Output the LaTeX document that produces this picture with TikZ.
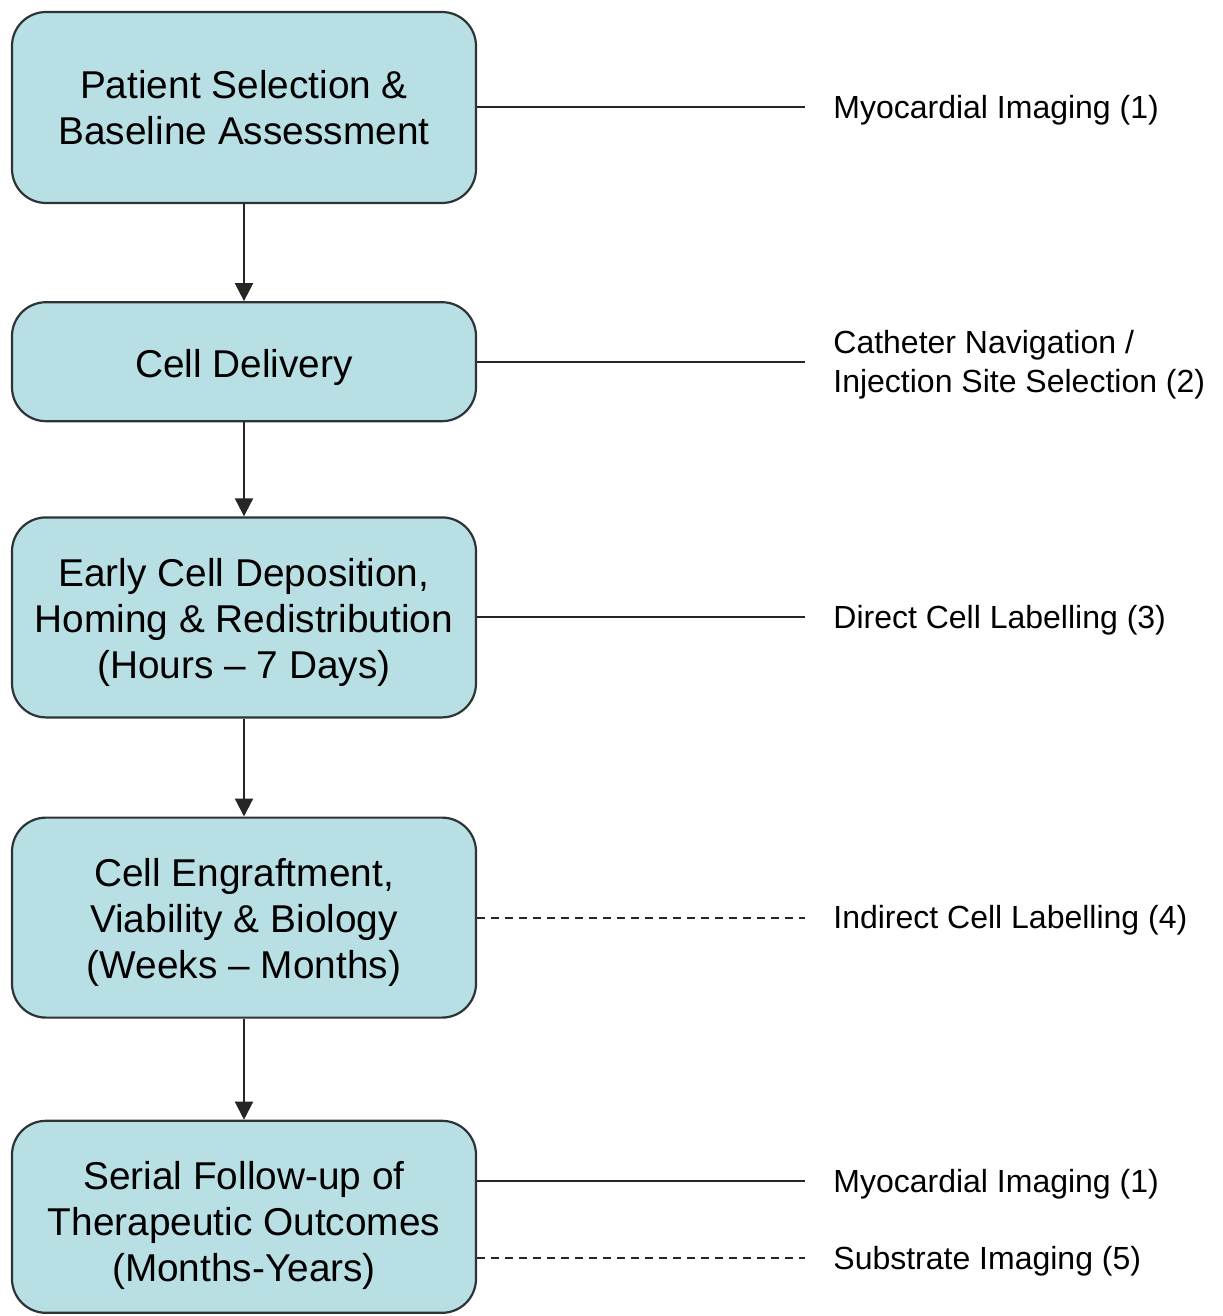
\documentclass[tikz,border=0pt]{standalone}
\usepackage{fontspec}
\setmainfont{Liberation Sans}
\usepackage{tikz}
\usetikzlibrary{positioning,arrows.meta}

\definecolor{boxfill}{RGB}{184,223,227}
\definecolor{boxline}{RGB}{45,52,54}
\newcommand{\sinkto}[1]{\rule{0pt}{#1}}

\begin{document}
\begin{tikzpicture}[node distance=50pt,
    stage/.style={rectangle, rounded corners=17pt, fill=boxfill, draw=boxline,
        line width=1.1pt, minimum width=232pt, align=center,
        font=\fontsize{19.4}{23}\selectfont},
    note/.style={anchor=west, inner xsep=0pt, align=left,
        font=\fontsize{16}{19.5}\selectfont},
    flow/.style={line width=1.1pt, draw=black!85,
        -{Triangle[width=9pt,length=9pt]}},
    link/.style={line width=1pt, draw=black!85},
    weak/.style={link, dash pattern=on 4pt off 3pt}]

\useasboundingbox (0,0) rectangle (611pt,-658pt);

% stages of the work-up
\node [stage, minimum height=95.5pt] (select) at (122pt,-53.75pt)
    {Patient Selection \&\\Baseline Assessment};
\node [stage, minimum height=59.5pt, below=48.5pt of select] (deliver) {\sinkto{20pt}Cell Delivery};
\node [stage, minimum height=100pt, below=47pt of deliver] (homing)
    {\sinkto{18.8pt}Early Cell Deposition,\\Homing \& Redistribution\\(Hours -- 7 Days)};
\node [stage, minimum height=100pt, below=49pt of homing] (engraft)
    {\sinkto{19pt}Cell Engraftment,\\Viability \& Biology\\(Weeks -- Months)};
\node [stage, minimum height=96pt, below=50.5pt of engraft] (follow)
    {\sinkto{23pt}Serial Follow-up of\\Therapeutic Outcomes\\(Months-Years)};

\draw [flow] (select) -- (deliver);
\draw [flow] (deliver) -- (homing);
\draw [flow] (homing) -- (engraft);
\draw [flow] (engraft) -- (follow);

% imaging techniques
\coordinate (rcol) at (416.5pt,0);
\node [note] (myoA) at ([yshift=-1.5pt]rcol |- select) {Myocardial Imaging (1)};
\node [note] (cath) at ([yshift=-1.5pt]rcol |- deliver) {Catheter Navigation /\\Injection Site Selection (2)};
\node [note] (direct) at ([yshift=-1.5pt]rcol |- homing) {Direct Cell Labelling (3)};
\node [note] (indirect) at ([yshift=-1.5pt]rcol |- engraft) {Indirect Cell Labelling (4)};
\node [note] (myoB) at ([yshift=16.5pt]rcol |- follow) {Myocardial Imaging (1)};
\node [note] (subst) at ([yshift=-22pt]rcol |- follow) {Substrate Imaging (5)};

\draw [link] (select.east) -- ([xshift=-14pt]select.east -| myoA.west);
\draw [link] (deliver.east) -- ([xshift=-14pt]deliver.east -| cath.west);
\draw [link] (homing.east) -- ([xshift=-14pt]homing.east -| direct.west);
\draw [weak] (engraft.east) -- ([xshift=-14pt]engraft.east -| indirect.west);
\draw [link] ([yshift=18pt]follow.east) -- ([xshift=-14pt,yshift=18pt]follow.east -| myoB.west);
\draw [weak] ([yshift=-20.5pt]follow.east) -- ([xshift=-14pt,yshift=-20.5pt]follow.east -| subst.west);

\end{tikzpicture}
\end{document}
